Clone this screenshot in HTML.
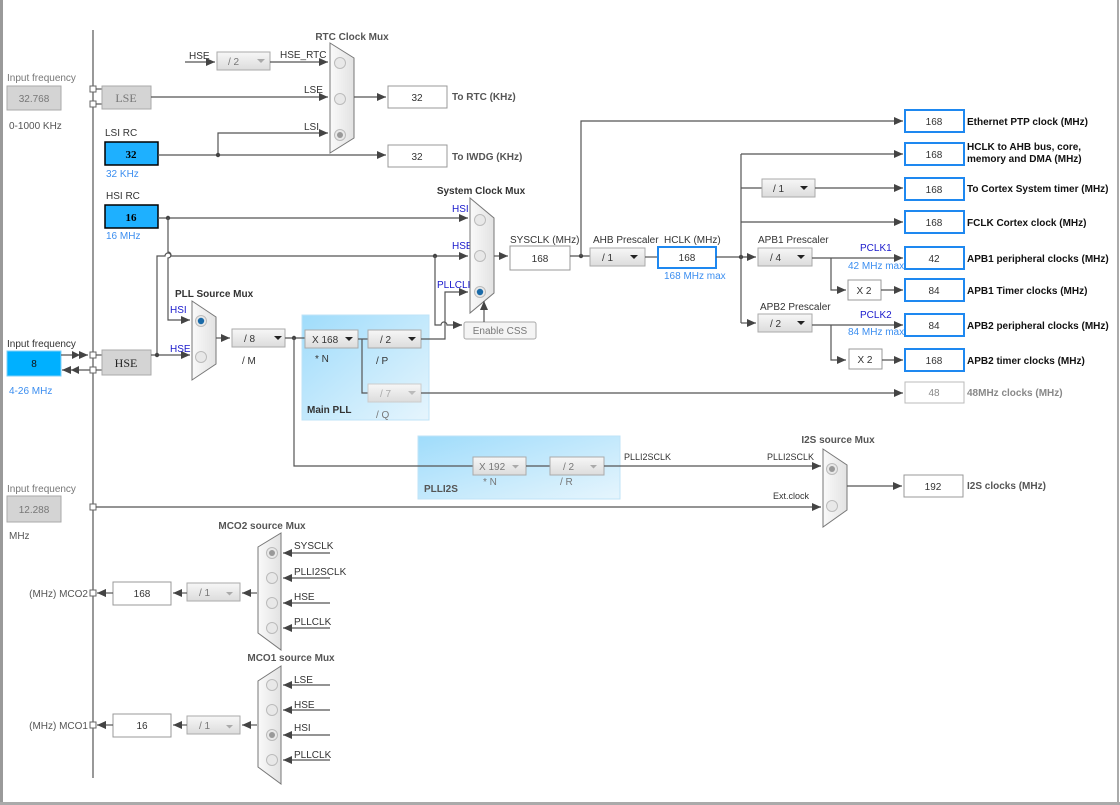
<!DOCTYPE html>
<html><head><meta charset="utf-8"><style>
body{margin:0;background:#fff}
svg{display:block;font-family:"Liberation Sans","DejaVu Sans",sans-serif}
.l{stroke:#555;stroke-width:1.2;fill:none}
.a{stroke:#555;stroke-width:1.2;fill:none;marker-end:url(#ar)}
.t{font-size:10px;fill:#333}
.g{font-size:10px;fill:#777}
.b{font-size:10px;font-weight:bold;fill:#333}
.bk{font-size:10px;font-weight:bold;fill:#111}
.bl{font-size:10px;fill:#1a1acc}
.lb{font-size:10px;fill:#3b8ef0}
.box{fill:#fff;stroke:#999}
.ob{fill:#fff;stroke:#1e88f0;stroke-width:2}
.gb{fill:#d4d4d4;stroke:#aaa}
.dd{fill:url(#dg);stroke:#aaa}
.mux{fill:url(#mg);stroke:#777}
.rc{fill:#e8e8e8;stroke:#bbb}
</style></head><body>
<svg width="1120" height="805" viewBox="0 0 1120 805">
<defs>
<marker id="ar" markerWidth="9" markerHeight="8" refX="9" refY="4" orient="auto" markerUnits="userSpaceOnUse"><path d="M0,0L9,4L0,8z" fill="#444"/></marker>
<linearGradient id="dg" x1="0" y1="0" x2="0" y2="1"><stop offset="0" stop-color="#f7f7f7"/><stop offset="1" stop-color="#dcdcdc"/></linearGradient>
<linearGradient id="mg" x1="0" y1="0" x2="1" y2="0"><stop offset="0" stop-color="#fafafa"/><stop offset="1" stop-color="#e2e2e2"/></linearGradient>
<linearGradient id="pg" x1="0" y1="0" x2="1" y2="1"><stop offset="0" stop-color="#9fdcfb"/><stop offset="1" stop-color="#e6f5fd"/></linearGradient>
</defs>
<rect x="0" y="0" width="3" height="805" fill="#9a9a9a"/>
<rect x="1117" y="0" width="2" height="805" fill="#aaa"/>
<rect x="0" y="802" width="1120" height="3" fill="#aaa"/>
<line x1="93" y1="30" x2="93" y2="778" class="l"/>

<rect x="302" y="315" width="127" height="105" fill="url(#pg)" stroke="#bfe3f7"/>
<rect x="418" y="436" width="202" height="63" fill="url(#pg)" stroke="#bfe3f7"/>

<text x="7" y="81" class="g">Input frequency</text>
<rect x="7" y="86" width="54" height="24" class="gb"/><text x="34" y="102" class="g" text-anchor="middle">32.768</text>
<text x="9" y="129" class="g" style="fill:#555">0-1000 KHz</text>
<rect x="90" y="86" width="6" height="6" fill="#fff" stroke="#666"/>
<rect x="90" y="101" width="6" height="6" fill="#fff" stroke="#666"/>
<line x1="96" y1="89" x2="102" y2="89" class="l"/><line x1="96" y1="104" x2="102" y2="104" class="l"/>
<rect x="102" y="86" width="49" height="23" class="gb"/><text x="126" y="102" text-anchor="middle" style="font-family:'Liberation Serif',serif;font-size:12px;fill:#777">LSE</text>

<text x="352" y="40" class="b" text-anchor="middle" style="fill:#555">RTC Clock Mux</text>
<text x="189" y="59" class="t">HSE</text>
<line x1="185" y1="62" x2="215" y2="62" class="a"/>
<rect x="217" y="52" width="53" height="18" class="dd"/><text x="228" y="65" class="g">/ 2</text><path d="M257,59l8,0l-4,4z" fill="#aaa"/>
<text x="280" y="58" class="t">HSE_RTC</text>
<line x1="270" y1="62" x2="328" y2="62" class="a"/>
<text x="304" y="93" class="t">LSE</text>
<line x1="151" y1="97" x2="328" y2="97" class="a"/>
<text x="304" y="130" class="t">LSI</text>
<polyline points="218,155 218,133 328,133" class="a"/>
<polygon points="330,43 354,58 354,138 330,153" class="mux"/>
<circle cx="340" cy="63" r="5.5" class="rc"/><circle cx="340" cy="99" r="5.5" class="rc"/>
<circle cx="340" cy="135" r="5.5" class="rc"/><circle cx="340" cy="135" r="3" fill="#999"/>
<line x1="354" y1="97" x2="386" y2="97" class="a"/>
<rect x="388" y="86" width="59" height="22" class="box"/><text x="417" y="101" class="t" text-anchor="middle">32</text>
<text x="452" y="100" class="b" style="fill:#555">To RTC (KHz)</text>

<text x="105" y="136" class="t">LSI RC</text>
<rect x="105" y="142" width="53" height="23" fill="#1eb0ff" stroke="#000" stroke-width="1.5"/><text x="131" y="158" text-anchor="middle" style="font-family:'Liberation Serif',serif;font-size:11px;font-weight:bold">32</text>
<text x="106" y="177" class="lb">32 KHz</text>
<line x1="158" y1="155" x2="386" y2="155" class="a"/><circle cx="218" cy="155" r="2.2" fill="#444"/>
<rect x="388" y="145" width="59" height="22" class="box"/><text x="417" y="160" class="t" text-anchor="middle">32</text>
<text x="452" y="160" class="b" style="fill:#555">To IWDG (KHz)</text>

<text x="106" y="199" class="t">HSI RC</text>
<rect x="105" y="205" width="53" height="23" fill="#1eb0ff" stroke="#000" stroke-width="1.5"/><text x="131" y="221" text-anchor="middle" style="font-family:'Liberation Serif',serif;font-size:11px;font-weight:bold">16</text>
<text x="106" y="239" class="lb">16 MHz</text>
<line x1="158" y1="218" x2="468" y2="218" class="a"/><circle cx="168" cy="218" r="2.2" fill="#444"/>
<path d="M168,218V252a3,3 0 0 1 0,6V320H190" class="a"/>
<path d="M157,355V256H165a3,3 0 0 1 6,0H468" class="a"/>
<circle cx="435" cy="256" r="2.2" fill="#444"/>
<path d="M435,256V325H441a3,3 0 0 1 6,0H462" class="a"/>
<text x="452" y="212" class="bl">HSI</text><text x="452" y="249" class="bl">HSE</text><text x="437" y="288" class="bl">PLLCLK</text>
<text x="481" y="194" class="b" text-anchor="middle">System Clock Mux</text>
<polygon points="470,198 494,218 494,293 470,313" class="mux"/>
<circle cx="480" cy="220" r="5.5" class="rc"/><circle cx="480" cy="256" r="5.5" class="rc"/>
<circle cx="480" cy="292" r="5.5" class="rc"/><circle cx="480" cy="292" r="3.2" fill="#1a6aa8"/>
<rect x="464" y="322" width="72" height="17" rx="2" fill="#f4f4f4" stroke="#aaa"/><text x="500" y="334" class="g" text-anchor="middle">Enable CSS</text>
<line x1="484" y1="322" x2="484" y2="301" class="a"/>
<line x1="494" y1="256" x2="508" y2="256" class="a"/>
<text x="510" y="243" class="t">SYSCLK (MHz)</text>
<rect x="510" y="246" width="60" height="24" class="box"/><text x="540" y="262" class="t" text-anchor="middle">168</text>
<line x1="570" y1="256" x2="590" y2="256" class="l"/><circle cx="581" cy="256" r="2.2" fill="#444"/>
<polyline points="581,256 581,121 903,121" class="a"/>
<text x="593" y="243" class="t">AHB Prescaler</text>
<rect x="590" y="248" width="55" height="18" class="dd"/><text x="602" y="261" class="t">/ 1</text><path d="M630,255l8,0l-4,4z" fill="#222"/>
<line x1="645" y1="257" x2="658" y2="257" class="l"/>
<text x="664" y="243" class="t">HCLK (MHz)</text>
<rect x="658" y="247" width="58" height="21" class="ob"/><text x="687" y="261" class="t" text-anchor="middle">168</text>
<text x="664" y="279" class="lb">168 MHz max</text>
<line x1="716" y1="257" x2="756" y2="257" class="a"/><circle cx="741" cy="257" r="2.2" fill="#444"/>
<line x1="741" y1="154" x2="741" y2="323" class="l"/>
<line x1="741" y1="154" x2="903" y2="154" class="a"/>
<line x1="741" y1="188" x2="762" y2="188" class="l"/>
<rect x="762" y="179" width="53" height="18" class="dd"/><text x="773" y="192" class="t">/ 1</text><path d="M800,186l8,0l-4,4z" fill="#222"/>
<line x1="815" y1="188" x2="903" y2="188" class="a"/>
<line x1="741" y1="222" x2="903" y2="222" class="a"/>
<text x="758" y="243" class="t">APB1 Prescaler</text>
<rect x="758" y="248" width="54" height="18" class="dd"/><text x="770" y="261" class="t">/ 4</text><path d="M797,255l8,0l-4,4z" fill="#222"/>
<line x1="812" y1="258" x2="903" y2="258" class="a"/>
<text x="860" y="251" class="bl">PCLK1</text><text x="848" y="269" class="lb">42 MHz max</text>
<polyline points="831,258 831,290 846,290" class="a"/>
<rect x="848" y="280" width="33" height="20" class="box"/><text x="864" y="294" class="t" text-anchor="middle">X 2</text>
<line x1="881" y1="290" x2="903" y2="290" class="a"/>
<line x1="741" y1="323" x2="756" y2="323" class="a"/>
<text x="760" y="310" class="t">APB2 Prescaler</text>
<rect x="758" y="314" width="54" height="18" class="dd"/><text x="770" y="327" class="t">/ 2</text><path d="M797,321l8,0l-4,4z" fill="#222"/>
<line x1="812" y1="325" x2="903" y2="325" class="a"/>
<text x="860" y="318" class="bl">PCLK2</text><text x="848" y="335" class="lb">84 MHz max</text>
<polyline points="831,325 831,360 846,360" class="a"/>
<rect x="849" y="349" width="33" height="20" class="box"/><text x="865" y="363" class="t" text-anchor="middle">X 2</text>
<line x1="882" y1="360" x2="903" y2="360" class="a"/>

<g class="t" text-anchor="middle">
<rect x="905" y="110" width="59" height="22" class="ob"/><text x="934" y="125">168</text>
<rect x="905" y="143" width="59" height="22" class="ob"/><text x="934" y="158">168</text>
<rect x="905" y="178" width="59" height="22" class="ob"/><text x="934" y="193">168</text>
<rect x="905" y="211" width="59" height="22" class="ob"/><text x="934" y="226">168</text>
<rect x="905" y="247" width="59" height="22" class="ob"/><text x="934" y="262">42</text>
<rect x="905" y="279" width="59" height="22" class="ob"/><text x="934" y="294">84</text>
<rect x="905" y="314" width="59" height="22" class="ob"/><text x="934" y="329">84</text>
<rect x="905" y="349" width="59" height="22" class="ob"/><text x="934" y="364">168</text>
<rect x="905" y="382" width="59" height="21" class="box" style="stroke:#bbb"/><text x="934" y="396" style="fill:#888">48</text>
<rect x="904" y="475" width="59" height="22" class="box"/><text x="933" y="490">192</text>
</g>
<text x="967" y="125" class="bk">Ethernet PTP clock (MHz)</text>
<text x="967" y="150" class="bk">HCLK to AHB bus, core,</text>
<text x="967" y="162" class="bk">memory and DMA (MHz)</text>
<text x="967" y="192" class="bk">To Cortex System timer (MHz)</text>
<text x="967" y="226" class="bk">FCLK Cortex clock (MHz)</text>
<text x="967" y="262" class="bk">APB1 peripheral clocks (MHz)</text>
<text x="967" y="294" class="bk">APB1 Timer clocks (MHz)</text>
<text x="967" y="329" class="bk">APB2 peripheral clocks (MHz)</text>
<text x="967" y="364" class="bk">APB2 timer clocks (MHz)</text>
<text x="967" y="396" class="bk" style="fill:#888">48MHz clocks (MHz)</text>
<text x="967" y="489" class="b" style="fill:#555">I2S clocks (MHz)</text>

<text x="7" y="347" class="t">Input frequency</text>
<rect x="7" y="351" width="54" height="25" fill="#00b0ff" stroke="#7fcff7"/><text x="34" y="367" class="t" text-anchor="middle" style="fill:#111">8</text>
<text x="9" y="394" class="lb">4-26 MHz</text>
<line x1="61" y1="355" x2="88" y2="355" class="a"/><path d="M72,351l8,4l-8,4z" fill="#444"/>
<line x1="90" y1="370" x2="62" y2="370" class="a"/><path d="M79,366l-8,4l8,4z" fill="#444"/>
<rect x="90" y="352" width="6" height="6" fill="#fff" stroke="#666"/>
<rect x="90" y="367" width="6" height="6" fill="#fff" stroke="#666"/>
<line x1="96" y1="355" x2="102" y2="355" class="l"/><line x1="96" y1="370" x2="102" y2="370" class="l"/>
<rect x="102" y="350" width="49" height="25" class="gb"/><text x="126" y="367" text-anchor="middle" style="font-family:'Liberation Serif',serif;font-size:12px;fill:#222">HSE</text>
<line x1="151" y1="355" x2="190" y2="355" class="a"/><circle cx="157" cy="355" r="2.2" fill="#444"/>
<text x="175" y="297" class="b">PLL Source Mux</text>
<text x="170" y="313" class="bl">HSI</text><text x="170" y="352" class="bl">HSE</text>
<polygon points="192,301 216,317 216,364 192,380" class="mux"/>
<circle cx="201" cy="321" r="5.5" class="rc"/><circle cx="201" cy="321" r="3.2" fill="#1a6aa8"/>
<circle cx="201" cy="357" r="5.5" class="rc"/>
<line x1="216" y1="338" x2="230" y2="338" class="a"/>
<rect x="232" y="329" width="53" height="18" class="dd"/><text x="244" y="342" class="t">/ 8</text><path d="M274,336l8,0l-4,4z" fill="#222"/>
<text x="242" y="364" class="t">/ M</text>
<line x1="285" y1="338" x2="305" y2="338" class="l"/><circle cx="294" cy="338" r="2.2" fill="#444"/>
<rect x="305" y="330" width="53" height="18" class="dd"/><text x="312" y="343" class="t">X 168</text><path d="M345,337l8,0l-4,4z" fill="#222"/>
<text x="315" y="362" class="t">* N</text>
<line x1="358" y1="339" x2="368" y2="339" class="l"/>
<polyline points="362,339 362,393 368,393" class="l"/>
<rect x="368" y="330" width="53" height="18" class="dd"/><text x="380" y="343" class="t">/ 2</text><path d="M408,337l8,0l-4,4z" fill="#222"/>
<text x="376" y="364" class="t">/ P</text>
<rect x="368" y="384" width="53" height="18" class="dd" style="stroke:#ccc"/><text x="380" y="397" class="g" style="fill:#aaa">/ 7</text><path d="M408,391l8,0l-4,4z" fill="#bbb"/>
<text x="376" y="418" class="g">/ Q</text>
<text x="307" y="413" class="b">Main PLL</text>
<polyline points="421,339 445,339 445,292 468,292" class="a"/>
<line x1="421" y1="393" x2="903" y2="393" class="a"/>

<polyline points="294,338 294,466 473,466" class="l"/>
<rect x="473" y="457" width="53" height="18" class="dd"/><text x="479" y="470" class="g">X 192</text><path d="M512,465l7,0l-3.5,3.5z" fill="#aaa"/>
<line x1="526" y1="466" x2="550" y2="466" class="l"/>
<rect x="550" y="457" width="54" height="18" class="dd"/><text x="563" y="470" class="g">/ 2</text><path d="M590,465l7,0l-3.5,3.5z" fill="#aaa"/>
<text x="483" y="485" class="g">* N</text><text x="560" y="485" class="g">/ R</text>
<text x="424" y="492" class="b" style="fill:#555">PLLI2S</text>
<line x1="604" y1="466" x2="821" y2="466" class="a"/>
<text x="624" y="460" class="t" style="font-size:9px">PLLI2SCLK</text><text x="767" y="460" class="t" style="font-size:9px">PLLI2SCLK</text>
<text x="838" y="443" class="b" text-anchor="middle" style="fill:#555">I2S source Mux</text>
<polygon points="823,449 847,465 847,510 823,527" class="mux"/>
<circle cx="832" cy="469" r="5.5" class="rc"/><circle cx="832" cy="469" r="3" fill="#999"/>
<circle cx="832" cy="506" r="5.5" class="rc"/>
<line x1="847" y1="486" x2="902" y2="486" class="a"/>
<text x="7" y="492" class="g">Input frequency</text>
<rect x="7" y="496" width="54" height="26" class="gb"/><text x="34" y="513" class="g" text-anchor="middle">12.288</text>
<text x="9" y="539" class="g" style="fill:#555">MHz</text>
<rect x="90" y="504" width="6" height="6" fill="#fff" stroke="#666"/>
<line x1="96" y1="507" x2="821" y2="507" class="a"/>
<text x="773" y="499" class="t" style="font-size:9px">Ext.clock</text>

<text x="262" y="529" class="b" text-anchor="middle" style="fill:#555">MCO2 source Mux</text>
<polygon points="281,533 281,650 258,633 258,547" class="mux"/>
<g class="rc"><circle cx="272" cy="553" r="5.5"/><circle cx="272" cy="578" r="5.5"/><circle cx="272" cy="603" r="5.5"/><circle cx="272" cy="628" r="5.5"/></g>
<circle cx="272" cy="553" r="3" fill="#999"/>
<g class="a"><line x1="330" y1="553" x2="283" y2="553"/><line x1="330" y1="578" x2="283" y2="578"/><line x1="330" y1="603" x2="283" y2="603"/><line x1="330" y1="628" x2="283" y2="628"/></g>
<text x="294" y="549" class="t">SYSCLK</text><text x="294" y="575" class="t">PLLI2SCLK</text><text x="294" y="600" class="t">HSE</text><text x="294" y="625" class="t">PLLCLK</text>
<line x1="257" y1="593" x2="242" y2="593" class="a"/>
<rect x="187" y="583" width="53" height="18" class="dd"/><text x="199" y="596" class="g">/ 1</text><path d="M226,592l7,0l-3.5,3.5z" fill="#aaa"/>
<line x1="187" y1="593" x2="173" y2="593" class="a"/>
<rect x="113" y="582" width="58" height="23" class="box"/><text x="142" y="597" class="t" text-anchor="middle">168</text>
<line x1="113" y1="593" x2="97" y2="593" class="a"/><path d="M106,589l-8,4l8,4z" fill="#444"/>
<rect x="90" y="590" width="6" height="6" fill="#fff" stroke="#666"/>
<text x="88" y="597" class="g" text-anchor="end" style="fill:#555">(MHz) MCO2</text>

<text x="291" y="661" class="b" text-anchor="middle" style="fill:#555">MCO1 source Mux</text>
<polygon points="281,666 281,784 258,767 258,681" class="mux"/>
<g class="rc"><circle cx="272" cy="685" r="5.5"/><circle cx="272" cy="710" r="5.5"/><circle cx="272" cy="735" r="5.5"/><circle cx="272" cy="760" r="5.5"/></g>
<circle cx="272" cy="735" r="3" fill="#999"/>
<g class="a"><line x1="330" y1="685" x2="283" y2="685"/><line x1="330" y1="710" x2="283" y2="710"/><line x1="330" y1="735" x2="283" y2="735"/><line x1="330" y1="760" x2="283" y2="760"/></g>
<text x="294" y="683" class="t">LSE</text><text x="294" y="708" class="t">HSE</text><text x="294" y="731" class="t">HSI</text><text x="294" y="758" class="t">PLLCLK</text>
<line x1="257" y1="725" x2="242" y2="725" class="a"/>
<rect x="187" y="716" width="53" height="18" class="dd"/><text x="199" y="729" class="g">/ 1</text><path d="M226,725l7,0l-3.5,3.5z" fill="#aaa"/>
<line x1="187" y1="725" x2="173" y2="725" class="a"/>
<rect x="113" y="714" width="58" height="23" class="box"/><text x="142" y="729" class="t" text-anchor="middle">16</text>
<line x1="113" y1="725" x2="97" y2="725" class="a"/><path d="M106,721l-8,4l8,4z" fill="#444"/>
<rect x="90" y="722" width="6" height="6" fill="#fff" stroke="#666"/>
<text x="88" y="729" class="g" text-anchor="end" style="fill:#555">(MHz) MCO1</text>
</svg>
</body></html>
